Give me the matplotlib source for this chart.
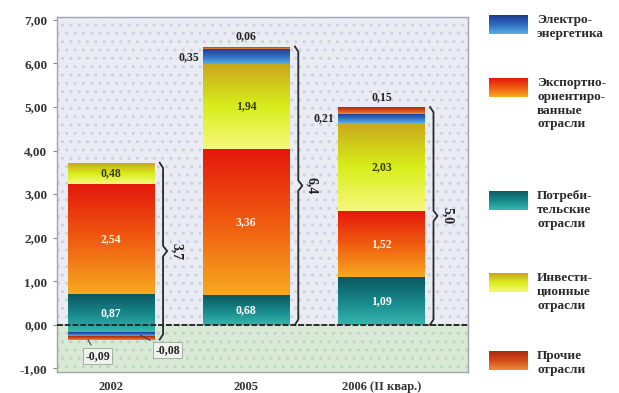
import numpy as np
import matplotlib
matplotlib.use('Agg')
import matplotlib.pyplot as plt
from matplotlib.colors import LinearSegmentedColormap

# ---------------------------------------------------------------------------
# Data (contributions to growth, p.p.)
# ---------------------------------------------------------------------------
years = ['2002', '2005', '2006 (II квар.)']
consumer = [0.87, 0.68, 1.09]      # Потребительские отрасли
export = [2.54, 3.36, 1.52]        # Экспортно-ориентированные отрасли
invest = [0.48, 1.94, 2.03]        # Инвестиционные отрасли
electro = [-0.08, 0.35, 0.21]      # Электроэнергетика
other = [-0.09, 0.06, 0.15]        # Прочие отрасли
totals = ['3,7', '6,4', '5,0']

legend_labels = [
    'Электро-\nэнергетика',
    'Экспортно-\nориентиро-\nванные\nотрасли',
    'Потреби-\nтельские\nотрасли',
    'Инвести-\nционные\nотрасли',
    'Прочие\nотрасли',
]
yticks = [-1, 0, 1, 2, 3, 4, 5, 6, 7]

# gradients, top colour -> bottom colour
grad = {
    'consumer': ['#0b5860', '#17868a', '#36b6ae'],
    'export': ['#e4180c', '#f05a10', '#f7a820'],
    'invest': ['#c9a81c', '#d8ee1a', '#f6f87c'],
    'electro': ['#1d3a94', '#2e6cc0', '#56aee4'],
    'other': ['#b0280c', '#d24c18', '#ee8a40'],
}
cmaps = {k: LinearSegmentedColormap.from_list(k, v[::-1]) for k, v in grad.items()}

SERIF = 'Liberation Serif'
plt.rcParams['font.family'] = [SERIF, 'DejaVu Serif']


def fmt(v):
    return f'{v:.2f}'.replace('.', ',')


def fill_gradient(ax, patch, cmap):
    x0, y0 = patch.get_x(), patch.get_y()
    w, h = patch.get_width(), patch.get_height()
    g = np.linspace(0, 1, 64).reshape(-1, 1)
    if h < 0:
        y0, h = y0 + h, -h
    im = ax.imshow(g, cmap=cmap, origin='lower', aspect='auto',
                   extent=(x0, x0 + w, y0, y0 + h), zorder=3,
                   interpolation='bilinear')
    im.set_clip_path(patch)


def draw_brace(ax, x, y0, y1, dx=0.025, d=0.12):
    mid = (y0 + y1) / 2
    xs = [x - dx, x, x, x + dx * 1.2, x, x, x - dx]
    ys = [y1, y1 - d, mid + d, mid, mid - d, y0 + d, y0]
    ax.plot(xs, ys, color='#2a2a2a', lw=1.3, zorder=5, solid_joinstyle='round')


fig = plt.figure(figsize=(6.19, 3.93), dpi=100)
ax = fig.add_axes([0.092, 0.053, 0.664, 0.904])

x = np.arange(len(years))
width = 0.64
consumer = np.array(consumer)
export = np.array(export)
invest = np.array(invest)
electro = np.array(electro)
other = np.array(other)

# negatives shift the base of the positive stack
neg = np.minimum(electro, 0) + np.minimum(other, 0)
base = neg.copy()

series = [('consumer', consumer), ('export', export), ('invest', invest),
          ('electro', electro), ('other', other)]

pos_bottom = base.copy()
neg_bottom = base.copy()
seg_patches = {}
for key, vals in series:
    bots = np.where(vals >= 0, pos_bottom, neg_bottom)
    bars = ax.bar(x, vals, width, bottom=bots, color=grad[key][1],
                  linewidth=0, zorder=2)
    for p in bars:
        fill_gradient(ax, p, cmaps[key])
    seg_patches[key] = (bots, vals)
    pos_bottom = pos_bottom + np.where(vals >= 0, vals, 0)
    neg_bottom = neg_bottom + np.where(vals < 0, vals, 0)

# labels inside the large segments
inside = {'consumer': 'white', 'export': '#fff4e0', 'invest': '#3a3a10'}
for key, col in inside.items():
    bots, vals = seg_patches[key]
    for xi, b, v in zip(x, bots, vals):
        ax.text(xi, b + v / 2, fmt(v), ha='center', va='center', fontsize=8.5,
                fontweight='bold', color=col, zorder=6)

# small segments labelled outside
tops = pos_bottom
for i in range(len(years)):
    if electro[i] > 0:
        yb = seg_patches['electro'][0][i] + electro[i] / 2
        ax.text(x[i] - width / 2 - 0.03, yb, fmt(electro[i]), ha='right',
                va='center', fontsize=8.5, fontweight='bold', color='#222222',
                zorder=6)
    if other[i] > 0:
        ax.text(x[i], tops[i] + 0.1, fmt(other[i]), ha='center',
                va='bottom', fontsize=8.5, fontweight='bold', color='#222222',
                zorder=6)

# negative values of 2002
bbox = dict(boxstyle='square,pad=0.2', fc='#eef3ee', ec='#9aa89a', lw=0.6)
b_o, v_o = seg_patches['other']
b_e, v_e = seg_patches['electro']
ax.annotate(fmt(other[0]), xy=(x[0] - 0.18, b_o[0] + v_o[0] / 2),
            xytext=(x[0] - 0.1, -0.72), ha='center', va='center',
            fontsize=8.5, fontweight='bold', color='#222222', bbox=bbox,
            zorder=6, arrowprops=dict(arrowstyle='-', color='#444444', lw=0.8))
ax.annotate(fmt(electro[0]), xy=(x[0] + 0.2, b_e[0] + v_e[0] / 2),
            xytext=(x[0] + 0.42, -0.58), ha='center', va='center',
            fontsize=8.5, fontweight='bold', color='#222222', bbox=bbox,
            zorder=6, arrowprops=dict(arrowstyle='-', color='#444444', lw=0.8))

# braces with totals
for i in range(len(years)):
    lo = min(0, neg_bottom[i])
    bx = x[i] + width / 2 + 0.065
    draw_brace(ax, bx, lo, tops[i])
    ax.text(bx + 0.1, (lo + tops[i]) / 2, totals[i], rotation=270,
            ha='center', va='center', fontsize=10, fontweight='bold',
            color='#222222', zorder=6)

# background
ax.set_facecolor('#eaecf4')
ax.axhspan(0, 7.2, facecolor='none', hatch='..', edgecolor='#cdd1de',
           linewidth=0, zorder=0)
ax.axhspan(-1.2, 0, facecolor='#d8e9d5', hatch='..', edgecolor='#bdd6bb',
           linewidth=0, zorder=1)
ax.axhline(0, color='#2a2a2a', lw=1.4, ls=(0, (3, 1)), zorder=4)

ax.set_xlim(-0.40, 2.64)
ax.set_ylim(-1.09, 7.07)
ax.set_yticks(yticks)
ax.set_yticklabels([fmt(v) for v in yticks], fontsize=9.5, fontweight='bold',
                   color='#333333')
ax.set_xticks(x)
ax.set_xticklabels(years, fontsize=9, fontweight='bold', color='#333333')
ax.tick_params(axis='x', length=0, pad=6)
ax.tick_params(axis='y', length=3, color='#888888', pad=4)
for s in ax.spines.values():
    s.set_color('#a0a4b0')
    s.set_linewidth(1.0)
    s.set_linestyle((0, (2, 1)))

# legend on the right
leg_keys = ['electro', 'export', 'consumer', 'invest', 'other']
leg_top_px = [15, 78, 191, 273, 351]
W, H = 619, 393
for key, lab, ty in zip(leg_keys, legend_labels, leg_top_px):
    lax = fig.add_axes([489 / W, 1 - (ty + 19) / H, 39 / W, 19 / H])
    lax.imshow(np.linspace(0, 1, 32).reshape(-1, 1), cmap=cmaps[key],
               origin='lower', aspect='auto')
    lax.set_axis_off()
    fig.text(537 / W, 1 - (ty - 1) / H, lab, ha='left', va='top',
             fontsize=9.5, fontweight='bold', color='#2a2a2a',
             linespacing=1.2)

fig.savefig('out.png', dpi=100)
